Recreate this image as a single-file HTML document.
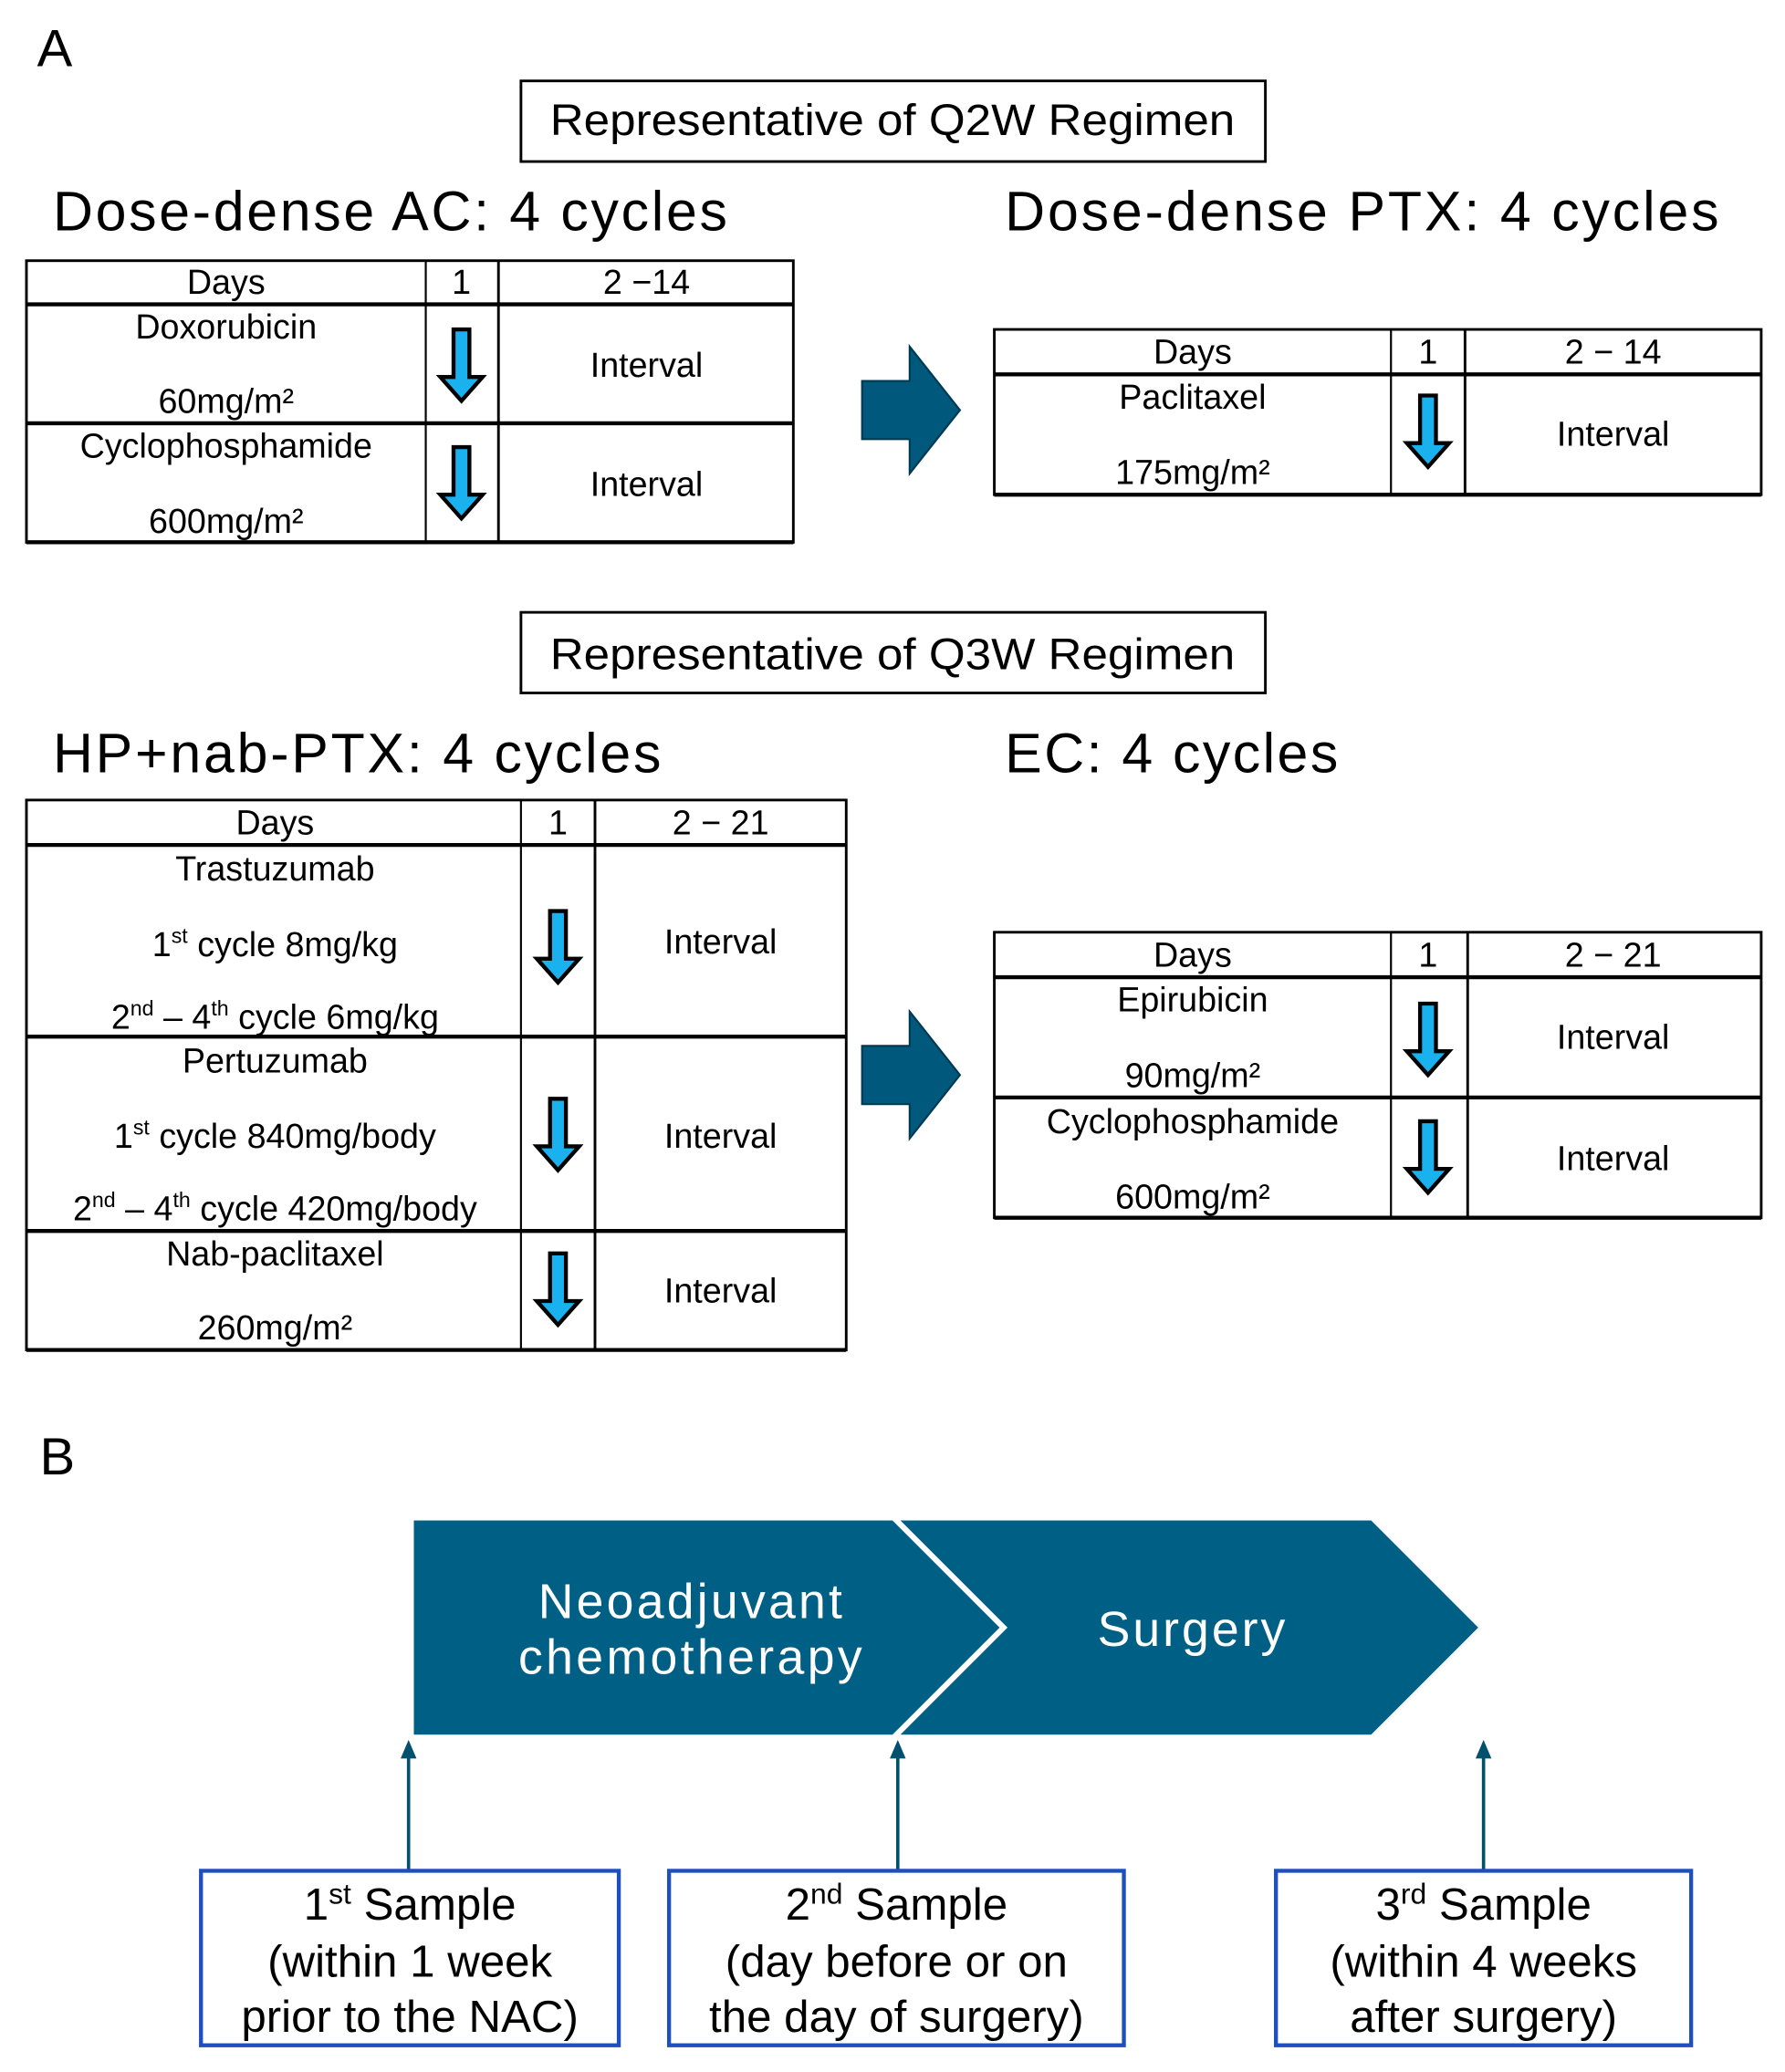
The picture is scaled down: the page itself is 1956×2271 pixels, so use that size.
<!DOCTYPE html>
<html><head><meta charset="utf-8"><style>html,body{margin:0;padding:0;background:#fff}svg{display:block}</style></head>
<body>
<svg width="1956" height="2271" viewBox="0 0 1350 1567" xmlns="http://www.w3.org/2000/svg" font-family="Liberation Sans, Arial, sans-serif">
<defs>
<polygon id="da" points="-6,0 6,0 6,36 16,36 0,54 -16,36 -6,36" fill="#19b2ef" stroke="#000" stroke-width="3" stroke-linejoin="miter"/>
<polygon id="up" points="0,0 -6,14 6,14" fill="#00506e"/>
</defs>
<rect width="1350" height="1567" fill="#fff"/>
<text x="28" y="50" font-size="40">A</text>
<rect x="394" y="61" width="563" height="61" fill="none" stroke="#000" stroke-width="2"/>
<text x="416" y="102" font-size="33" textLength="518" lengthAdjust="spacingAndGlyphs">Representative of Q2W Regimen</text>
<text x="40" y="174" font-size="42" textLength="510" lengthAdjust="spacing">Dose-dense AC: 4 cycles</text>
<text x="760" y="174" font-size="42" textLength="540" lengthAdjust="spacing">Dose-dense PTX: 4 cycles</text>

<g stroke="#000" fill="none">
<rect x="20" y="197" width="580" height="213" stroke-width="2"/>
<line x1="20" y1="230" x2="600" y2="230" stroke-width="3"/>
<line x1="20" y1="320" x2="600" y2="320" stroke-width="3"/>
<line x1="20" y1="410" x2="600" y2="410" stroke-width="3"/>
<line x1="322" y1="197" x2="322" y2="410" stroke-width="1.5"/>
<line x1="377" y1="197" x2="377" y2="410" stroke-width="2"/>
<rect x="752" y="249" width="580" height="125" stroke-width="2"/>
<line x1="752" y1="283" x2="1332" y2="283" stroke-width="3"/>
<line x1="752" y1="374" x2="1332" y2="374" stroke-width="3"/>
<line x1="1052" y1="249" x2="1052" y2="374" stroke-width="1.5"/>
<line x1="1108" y1="249" x2="1108" y2="374" stroke-width="2"/>
<rect x="20" y="605" width="620" height="416" stroke-width="2"/>
<line x1="20" y1="639" x2="640" y2="639" stroke-width="3"/>
<line x1="20" y1="784" x2="640" y2="784" stroke-width="3"/>
<line x1="20" y1="931" x2="640" y2="931" stroke-width="3"/>
<line x1="20" y1="1021" x2="640" y2="1021" stroke-width="3"/>
<line x1="394" y1="605" x2="394" y2="1021" stroke-width="1.5"/>
<line x1="450" y1="605" x2="450" y2="1021" stroke-width="2"/>
<rect x="752" y="705" width="580" height="216" stroke-width="2"/>
<line x1="752" y1="739" x2="1332" y2="739" stroke-width="3"/>
<line x1="752" y1="830" x2="1332" y2="830" stroke-width="3"/>
<line x1="752" y1="921" x2="1332" y2="921" stroke-width="3"/>
<line x1="1052" y1="705" x2="1052" y2="921" stroke-width="1.5"/>
<line x1="1110" y1="705" x2="1110" y2="921" stroke-width="2"/>
</g>

<g font-size="26" text-anchor="middle">
<text x="171" y="222">Days</text><text x="349" y="222">1</text><text x="489" y="222">2 −14</text>
<text x="171" y="256">Doxorubicin</text><text x="171" y="312">60mg/m²</text>
<text x="489" y="285">Interval</text>
<text x="171" y="346">Cyclophosphamide</text><text x="171" y="403">600mg/m²</text>
<text x="489" y="375">Interval</text>

<text x="902" y="275">Days</text><text x="1080" y="275">1</text><text x="1220" y="275">2 − 14</text>
<text x="902" y="309">Paclitaxel</text><text x="902" y="366">175mg/m²</text>
<text x="1220" y="337">Interval</text>

<text x="208" y="631">Days</text><text x="422" y="631">1</text><text x="545" y="631">2 − 21</text>
<text x="208" y="666">Trastuzumab</text>
<text x="208" y="723">1<tspan font-size="16" dy="-10">st</tspan><tspan dy="10"> cycle 8mg/kg</tspan></text>
<text x="208" y="778">2<tspan font-size="16" dy="-10">nd</tspan><tspan dy="10"> – 4</tspan><tspan font-size="16" dy="-10">th</tspan><tspan dy="10"> cycle 6mg/kg</tspan></text>
<text x="545" y="721">Interval</text>
<text x="208" y="811">Pertuzumab</text>
<text x="208" y="868">1<tspan font-size="16" dy="-10">st</tspan><tspan dy="10"> cycle 840mg/body</tspan></text>
<text x="208" y="923">2<tspan font-size="16" dy="-10">nd</tspan><tspan dy="10"> – 4</tspan><tspan font-size="16" dy="-10">th</tspan><tspan dy="10"> cycle 420mg/body</tspan></text>
<text x="545" y="868">Interval</text>
<text x="208" y="957">Nab-paclitaxel</text><text x="208" y="1013">260mg/m²</text>
<text x="545" y="985">Interval</text>

<text x="902" y="731">Days</text><text x="1080" y="731">1</text><text x="1220" y="731">2 − 21</text>
<text x="902" y="765">Epirubicin</text><text x="902" y="822">90mg/m²</text>
<text x="1220" y="793">Interval</text>
<text x="902" y="857">Cyclophosphamide</text><text x="902" y="914">600mg/m²</text>
<text x="1220" y="885">Interval</text>
</g>

<use href="#da" x="349" y="249"/>
<use href="#da" x="349" y="338"/>
<use href="#da" x="1080" y="299"/>
<use href="#da" x="422" y="689"/>
<use href="#da" x="422" y="831"/>
<use href="#da" x="422" y="948"/>
<use href="#da" x="1080" y="759"/>
<use href="#da" x="1080" y="848"/>

<polygon points="652,288 688,288 688,262 726,310 688,358 688,332 652,332" fill="#00587c" stroke="#003a52" stroke-width="1.5"/>
<polygon points="652,791 688,791 688,765 726,813 688,861 688,835 652,835" fill="#00587c" stroke="#003a52" stroke-width="1.5"/>

<rect x="394" y="463" width="563" height="61" fill="none" stroke="#000" stroke-width="2"/>
<text x="416" y="506" font-size="33" textLength="518" lengthAdjust="spacingAndGlyphs">Representative of Q3W Regimen</text>
<text x="40" y="584" font-size="42" textLength="460" lengthAdjust="spacing">HP+nab-PTX: 4 cycles</text>
<text x="760" y="584" font-size="42" textLength="252" lengthAdjust="spacing">EC: 4 cycles</text>

<text x="30" y="1115" font-size="40">B</text>
<polygon points="313,1150 675,1150 756,1231 675,1312 313,1312" fill="#005f84"/>
<polygon points="681,1150 1037,1150 1118,1231 1037,1312 681,1312 762,1231" fill="#005f84"/>
<g fill="#fff" font-size="37">
<text x="407" y="1224" textLength="230" lengthAdjust="spacing">Neoadjuvant</text>
<text x="392" y="1266" textLength="260" lengthAdjust="spacing">chemotherapy</text>
<text x="830" y="1245" textLength="142" lengthAdjust="spacing">Surgery</text>
</g>
<g stroke="#00506e" stroke-width="2.5">
<line x1="309" y1="1325" x2="309" y2="1415"/>
<line x1="679" y1="1325" x2="679" y2="1415"/>
<line x1="1122" y1="1325" x2="1122" y2="1415"/>
</g>
<use href="#up" x="309" y="1316"/><use href="#up" x="679" y="1316"/><use href="#up" x="1122" y="1316"/>

<g fill="none" stroke="#1f4fbf" stroke-width="3">
<rect x="152" y="1415" width="316" height="132"/>
<rect x="506" y="1415" width="344" height="132"/>
<rect x="965" y="1415" width="314" height="132"/>
</g>
<g font-size="34" text-anchor="middle">
<text x="310" y="1452">1<tspan font-size="22" dy="-12">st</tspan><tspan dy="12"> Sample</tspan></text>
<text x="310" y="1495">(within 1 week</text>
<text x="310" y="1537">prior to the NAC)</text>
<text x="678" y="1452">2<tspan font-size="22" dy="-12">nd</tspan><tspan dy="12"> Sample</tspan></text>
<text x="678" y="1495">(day before or on</text>
<text x="678" y="1537">the day of surgery)</text>
<text x="1122" y="1452">3<tspan font-size="22" dy="-12">rd</tspan><tspan dy="12"> Sample</tspan></text>
<text x="1122" y="1495">(within 4 weeks</text>
<text x="1122" y="1537">after surgery)</text>
</g>
</svg>
</body></html>
